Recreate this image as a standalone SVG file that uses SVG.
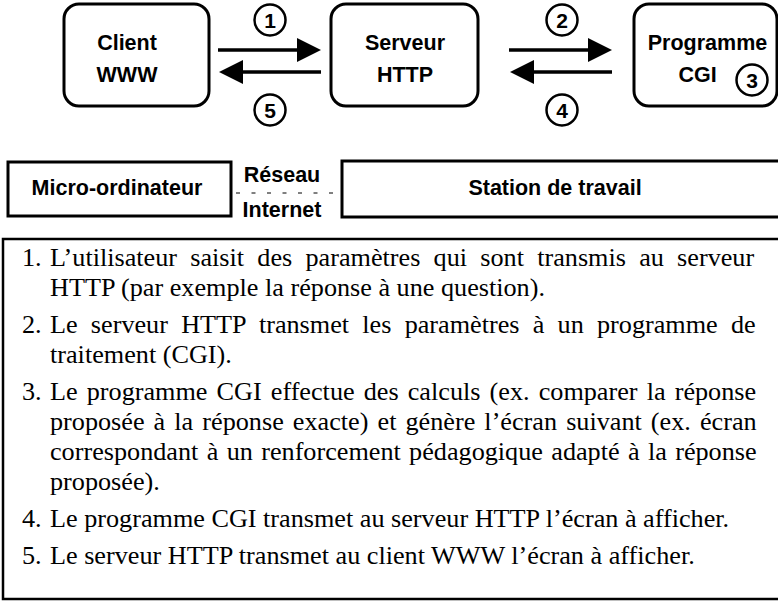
<svg xmlns="http://www.w3.org/2000/svg" width="778" height="601" viewBox="0 0 778 601">
<style>
.box{fill:#fff;stroke:#000;stroke-width:3}
.lbl{font-family:"Liberation Sans",Arial,sans-serif;font-weight:bold;font-size:21.5px;fill:#000;text-anchor:middle}
.num{font-family:"Liberation Sans",Arial,sans-serif;font-weight:bold;font-size:21px;fill:#000;text-anchor:middle}
.circ{fill:#fff;stroke:#000;stroke-width:2.5}
.arr{stroke:#000;stroke-width:3.5;fill:none;marker-end:url(#ah)}
.txt{font-family:"Liberation Serif","Times New Roman",serif;font-size:26.2px;fill:#000}
</style>
<defs>
<marker id="ah" markerUnits="userSpaceOnUse" viewBox="0 0 24 24" refX="12" refY="12" markerWidth="24" markerHeight="24" orient="auto">
<path d="M0,0 L24,12 L0,24 z" fill="#000"/>
</marker>
</defs>
<g id="client">
<rect class="box" x="64" y="4" width="145" height="102" rx="15"/>
<text class="lbl" x="127" y="50">Client</text>
<text class="lbl" x="127" y="82">WWW</text>
</g>
<g id="serveur">
<rect class="box" x="331" y="4" width="147" height="102" rx="15"/>
<text class="lbl" x="405" y="50">Serveur</text>
<text class="lbl" x="405" y="82">HTTP</text>
</g>
<g id="cgi">
<rect class="box" x="634" y="4" width="143" height="102" rx="15"/>
<text class="lbl" x="707.5" y="50">Programme</text>
<text class="lbl" x="697.5" y="82">CGI</text>
<circle class="circ" cx="752" cy="80" r="15.5"/>
<text class="num" x="752" y="87.5">3</text>
</g>
<g id="connectors">
<line class="arr" x1="218" y1="50" x2="309" y2="50"/>
<line class="arr" x1="321" y1="72" x2="231" y2="72"/>
<line class="arr" x1="509" y1="50" x2="600" y2="50"/>
<line class="arr" x1="612" y1="72" x2="522" y2="72"/>
<g id="step1"><circle class="circ" cx="270" cy="20" r="15.5"/><text class="num" x="270" y="27.5">1</text></g>
<g id="step5"><circle class="circ" cx="270" cy="110" r="15.5"/><text class="num" x="270" y="117.5">5</text></g>
<g id="step2"><circle class="circ" cx="562" cy="20" r="15.5"/><text class="num" x="562" y="27.5">2</text></g>
<g id="step4"><circle class="circ" cx="562" cy="110" r="15.5"/><text class="num" x="562" y="117.5">4</text></g>
</g>
<g id="micro">
<rect class="box" x="8" y="162" width="223" height="54"/>
<text class="lbl" x="117" y="195">Micro-ordinateur</text>
</g>
<g id="reseau">
<text class="lbl" x="282" y="182">Réseau</text>
<line x1="232" y1="193" x2="342" y2="193" stroke="#000" stroke-width="1" stroke-dasharray="4,11.5" stroke-dashoffset="-4"/>
<text class="lbl" x="282" y="217">Internet</text>
</g>
<g id="station">
<rect class="box" x="342" y="161" width="460" height="56"/>
<text class="lbl" x="555" y="195">Station de travail</text>
</g>
<g id="legend">
<rect x="3" y="239" width="800" height="360" fill="#fff" stroke="#000" stroke-width="2.5"/>
<text class="txt" x="22" y="266">1.</text>
<text class="txt" x="50" y="266" style="word-spacing:6.69px">L’utilisateur saisit des paramètres qui sont transmis au serveur</text>
<text class="txt" x="50" y="296">HTTP (par exemple la réponse à une question).</text>
<text class="txt" x="22" y="333">2.</text>
<text class="txt" x="50" y="333" style="word-spacing:6.69px">Le serveur HTTP transmet les paramètres à un programme de</text>
<text class="txt" x="50" y="363">traitement (CGI).</text>
<text class="txt" x="22" y="400">3.</text>
<text class="txt" x="50" y="400" style="word-spacing:2.57px">Le programme CGI effectue des calculs (ex. comparer la réponse</text>
<text class="txt" x="50" y="430" style="word-spacing:2.54px">proposée à la réponse exacte) et génère l’écran suivant (ex. écran</text>
<text class="txt" x="50" y="460" style="word-spacing:1.8px">correspondant à un renforcement pédagogique adapté à la réponse</text>
<text class="txt" x="50" y="490">proposée).</text>
<text class="txt" x="22" y="527">4.</text>
<text class="txt" x="50" y="527">Le programme CGI transmet au serveur HTTP l’écran à afficher.</text>
<text class="txt" x="22" y="564">5.</text>
<text class="txt" x="50" y="564">Le serveur HTTP transmet au client WWW l’écran à afficher.</text>
</g>
</svg>
